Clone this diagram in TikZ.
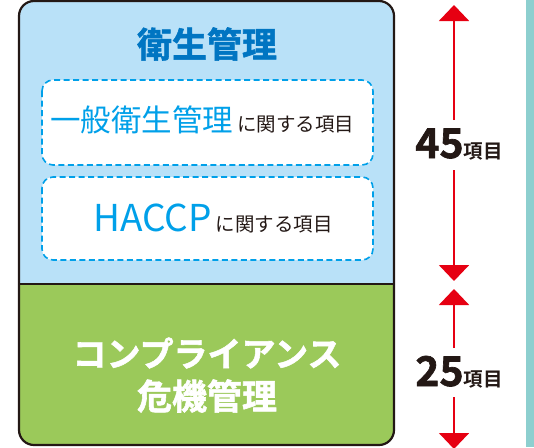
\documentclass[tikz,border=0pt]{standalone}
\usepackage{fontspec}
\setmainfont{Noto Sans CJK JP}[BoldFont={Noto Sans CJK JP Bold}]
\newfontfamily\heavy{Noto Sans CJK JP Bold}[FakeBold=1.6]
\usetikzlibrary{arrows.meta}
\definecolor{skyfill}{HTML}{B9E1F8}
\definecolor{titleblue}{HTML}{0075C2}
\definecolor{lightblue}{HTML}{00A0E9}
\definecolor{greenfill}{HTML}{9BC95A}
\definecolor{arrowred}{HTML}{E60012}
\definecolor{tealstrip}{HTML}{8DCFCF}
\definecolor{ink}{HTML}{231815}
\tikzset{
  dashbox/.style={draw=lightblue, line width=1.6pt, dash pattern=on 6pt off 3.5pt, fill=white, rounded corners=11pt},
  redarrow/.style={draw=arrowred, line width=2pt, -{Triangle[width=30pt,length=16pt]}},
}
\begin{document}
\begin{tikzpicture}[x=1pt,y=-1pt]
\useasboundingbox (0,0) rectangle (534,447);
% teal strip
\fill[tealstrip] (526,0) rectangle (534,447);
% fills
\begin{scope}
\clip[rounded corners=15pt] (19,1) rectangle (394,445);
\fill[skyfill] (19,1) rectangle (394,284);
\fill[greenfill] (19,284) rectangle (394,445);
\end{scope}
\draw[ink, line width=1.3pt] (19,284) -- (394,284);
\draw[ink, line width=2.2pt, rounded corners=15pt] (19,1) rectangle (394,445);
% title
\node[font=\heavy\fontsize{35}{40}\selectfont, text=titleblue] (title) at (207,44) {衛生管理};
% dashed boxes
\draw[dashbox] (42,80) rectangle (373,165);
\draw[dashbox] (42,177) rectangle (373,260);
\node[anchor=base west, inner sep=0pt] (g1) at (50,131) {\textcolor{lightblue}{\fontsize{30.5}{34}\selectfont 一般衛生管理}\hspace{4pt}\textcolor{ink}{\fontsize{19.5}{22}\selectfont に関する項目}};
\node[anchor=base, inner sep=0pt] (g2) at (213,231) {\textcolor{lightblue}{\fontsize{37}{40}\selectfont HACCP}\hspace{4pt}\textcolor{ink}{\fontsize{19.5}{22}\selectfont に関する項目}};
% green text
\node[font=\heavy\fontsize{34}{40}\selectfont, text=white] (c1) at (207,353) {コンプライアンス};
\node[font=\heavy\fontsize{35}{40}\selectfont, text=white] (c2) at (207,396) {危機管理};
% counts
\node[inner sep=0pt, anchor=base] (n45) at (459,158) {\textcolor{ink}{\heavy\fontsize{41}{44}\selectfont 45}\textcolor{ink}{\bfseries\fontsize{19.5}{22}\selectfont 項目}};
\node[inner sep=0pt, anchor=base] (n25) at (459,386) {\textcolor{ink}{\heavy\fontsize{41}{44}\selectfont 25}\textcolor{ink}{\bfseries\fontsize{19.5}{22}\selectfont 項目}};
\coordinate (a1) at (454,5);
\coordinate (a2) at (454,281);
\coordinate (a3) at (454,289);
\coordinate (a4) at (454,449);
\coordinate (b1) at (454,120);
\coordinate (b2) at (454,170);
\coordinate (b3) at (454,348);
\coordinate (b4) at (454,397);
\draw[redarrow] (b1) -- (a1);
\draw[redarrow] (b2) -- (a2);
\draw[redarrow] (b3) -- (a3);
\draw[redarrow] (b4) -- (a4);
\end{tikzpicture}
\end{document}
